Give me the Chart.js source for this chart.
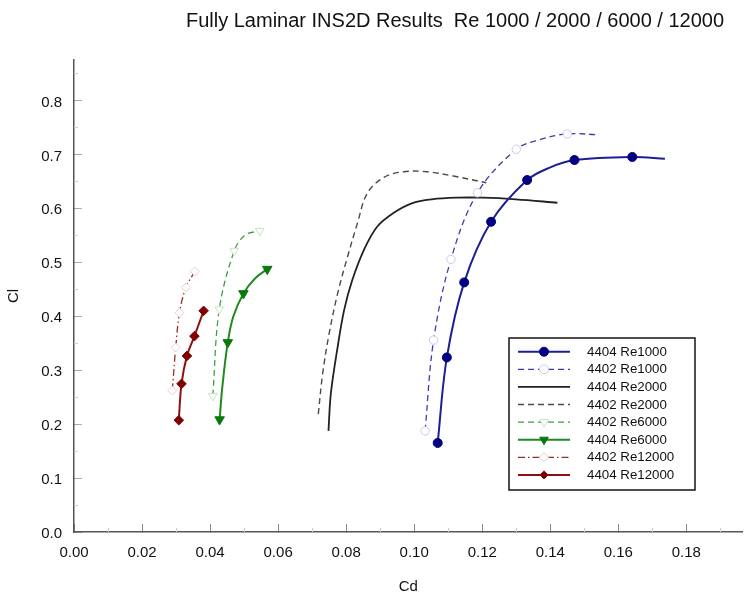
<!DOCTYPE html>
<html>
<head>
<meta charset="utf-8">
<script src="https://cdn.jsdelivr.net/npm/chart.js@4.4.0/dist/chart.umd.min.js"></script>
<style>
  html, body { margin: 0; padding: 0; background: #fff; }
</style>
</head>
<body>
<canvas id="polar" width="749" height="594"></canvas>
<script>
const chartTitle = 'Fully Laminar INS2D Results  Re 1000 / 2000 / 6000 / 12000';
const xTicks = [0, 0.02, 0.04, 0.06, 0.08, 0.10, 0.12, 0.14, 0.16, 0.18];
const yTicks = [0, 0.1, 0.2, 0.3, 0.4, 0.5, 0.6, 0.7, 0.8];
const xMinor = [0.01, 0.03, 0.05, 0.07, 0.09, 0.11, 0.13, 0.15, 0.17, 0.19];
const yMinor = [0.05, 0.15, 0.25, 0.35, 0.45, 0.55, 0.65, 0.75, 0.85];

// (Cd, Cl); mk = 1 where a symbol is drawn
const cd4404Re1000 = [0.1069, 0.1096, 0.1147, 0.1226, 0.1332, 0.1400, 0.1471, 0.1641, 0.1737];
const cl4404Re1000 = [0.1651, 0.3236, 0.4627, 0.5751, 0.6525, 0.6760, 0.6896, 0.6952, 0.6920];
const mk4404Re1000 = [1, 1, 1, 1, 1, 0, 1, 1, 0];

const cd4402Re1000 = [0.1032, 0.1057, 0.1108, 0.1186, 0.1300, 0.1367, 0.1450, 0.1541];
const cl4402Re1000 = [0.1874, 0.3557, 0.5054, 0.6289, 0.7095, 0.7270, 0.7379, 0.7366];
const mk4402Re1000 = [1, 1, 1, 1, 1, 0, 1, 0];

const cd4404Re2000 = [0.0748, 0.0755, 0.0775, 0.0794, 0.0818, 0.0852, 0.0891, 0.0940, 0.0993, 0.1052, 0.1124, 0.1202, 0.1299, 0.1421];
const cl4404Re2000 = [0.1874, 0.2568, 0.3432, 0.4113, 0.4670, 0.5226, 0.5659, 0.5918, 0.6093, 0.6167, 0.6197, 0.6197, 0.6167, 0.6104];

const cd4402Re2000 = [0.0718, 0.0731, 0.0750, 0.0775, 0.0804, 0.0833, 0.0862, 0.0911, 0.0969, 0.1037, 0.1115, 0.1212];
const cl4402Re2000 = [0.2184, 0.2939, 0.3681, 0.4423, 0.5102, 0.5722, 0.6278, 0.6575, 0.6679, 0.6679, 0.6599, 0.6475];

const cd4402Re6000 = [0.0408, 0.0427, 0.0471, 0.0503, 0.0546];
const cl4402Re6000 = [0.2523, 0.4126, 0.5213, 0.5505, 0.5584];
const mk4402Re6000 = [1, 1, 1, 0, 1];

const cd4404Re6000 = [0.0428, 0.0436, 0.0452, 0.0468, 0.0498, 0.0532, 0.0568];
const cl4404Re6000 = [0.2085, 0.2690, 0.3514, 0.3990, 0.4423, 0.4700, 0.4874];
const mk4404Re6000 = [1, 0, 1, 0, 1, 0, 1];

const cd4402Re12000 = [0.0289, 0.0299, 0.0310, 0.0329, 0.0355];
const cl4402Re12000 = [0.2623, 0.3421, 0.4063, 0.4534, 0.4831];

const cd4404Re12000 = [0.0308, 0.0316, 0.0332, 0.0354, 0.0381];
const cl4404Re12000 = [0.2072, 0.2746, 0.3265, 0.3631, 0.4100];

const FONT = '"Liberation Sans", Arial, Helvetica, sans-serif';

function pts(xs, ys) {
    return xs.map((x, i) => ({ x: x, y: ys[i] }));
}
function radii(marks, r) {
    return marks.map(m => m ? r : 0);
}

const datasets = [
    {
        label: '4404 Re1000',
        data: pts(cd4404Re1000, cl4404Re1000),
        borderColor: '#1e1e98', borderWidth: 2,
        pointStyle: 'circle', pointRadius: radii(mk4404Re1000, 4.5),
        pointBackgroundColor: '#000080', pointBorderColor: '#000080', pointBorderWidth: 1,
        legendRadius: 4.5
    },
    {
        label: '4402 Re1000',
        data: pts(cd4402Re1000, cl4402Re1000),
        borderColor: '#3c3cb0', borderWidth: 1.3, borderDash: [6, 4],
        pointStyle: 'circle', pointRadius: radii(mk4402Re1000, 4.2),
        pointBackgroundColor: '#ffffff', pointBorderColor: '#c8c8ee', pointBorderWidth: 1,
        legendRadius: 4.5
    },
    {
        label: '4404 Re2000',
        data: pts(cd4404Re2000, cl4404Re2000),
        borderColor: '#222222', borderWidth: 1.8,
        pointRadius: 0, legendRadius: 0
    },
    {
        label: '4402 Re2000',
        data: pts(cd4402Re2000, cl4402Re2000),
        borderColor: '#4a4a4a', borderWidth: 1.4, borderDash: [6, 4],
        pointRadius: 0, legendRadius: 0
    },
    {
        label: '4402 Re6000',
        data: pts(cd4402Re6000, cl4402Re6000),
        borderColor: '#3f9f3f', borderWidth: 1.3, borderDash: [6, 4],
        pointStyle: 'triangle', rotation: 180, pointRadius: radii(mk4402Re6000, 5),
        pointBackgroundColor: '#ffffff', pointBorderColor: '#c4e4c4', pointBorderWidth: 1,
        legendRadius: 5
    },
    {
        label: '4404 Re6000',
        data: pts(cd4404Re6000, cl4404Re6000),
        borderColor: '#1f8a1f', borderWidth: 2,
        pointStyle: 'triangle', rotation: 180, pointRadius: radii(mk4404Re6000, 5.5),
        pointBackgroundColor: '#0a780a', pointBorderColor: '#0a780a', pointBorderWidth: 1,
        legendRadius: 5
    },
    {
        label: '4402 Re12000',
        data: pts(cd4402Re12000, cl4402Re12000),
        borderColor: '#9a2a2a', borderWidth: 1.3, borderDash: [7, 3, 1.5, 3],
        pointStyle: 'rectRot', pointRadius: 4.5,
        pointBackgroundColor: '#ffffff', pointBorderColor: '#eccccc', pointBorderWidth: 1,
        legendRadius: 4.5
    },
    {
        label: '4404 Re12000',
        data: pts(cd4404Re12000, cl4404Re12000),
        borderColor: '#8e1010', borderWidth: 2,
        pointStyle: 'rectRot', pointRadius: 4.8,
        pointBackgroundColor: '#800000', pointBorderColor: '#800000', pointBorderWidth: 1,
        legendRadius: 4
    }
];

const plotTitle = {
    id: 'plotTitle',
    afterDraw(chart) {
        const ctx = chart.ctx;
        ctx.save();
        ctx.font = '20px ' + FONT;
        ctx.fillStyle = '#111';
        ctx.textAlign = 'center';
        ctx.textBaseline = 'alphabetic';
        ctx.fillText(chartTitle, 455, 26.5);
        ctx.restore();
    }
};

// short light minor ticks, drawn inward like the major ones
const minorTicks = {
    id: 'minorTicks',
    beforeDatasetsDraw(chart) {
        const ctx = chart.ctx;
        const { x, y } = chart.scales;
        const area = chart.chartArea;
        ctx.save();
        ctx.strokeStyle = '#cccccc';
        ctx.lineWidth = 1;
        ctx.beginPath();
        xMinor.forEach(v => {
            const px = Math.round(x.getPixelForValue(v)) + 0.5;
            ctx.moveTo(px, area.bottom);
            ctx.lineTo(px, area.bottom - 4);
        });
        yMinor.forEach(v => {
            const py = Math.round(y.getPixelForValue(v)) + 0.5;
            ctx.moveTo(area.left, py);
            ctx.lineTo(area.left + 4, py);
        });
        ctx.stroke();
        ctx.restore();
    }
};

const legendBox = {
    id: 'legendBox',
    afterDraw(chart) {
        const ctx = chart.ctx;
        const left = 509, top = 338, w = 186, h = 152, rowH = 17.6;
        ctx.save();
        ctx.fillStyle = '#ffffff';
        ctx.fillRect(left, top, w, h);
        ctx.lineWidth = 1.6;
        ctx.strokeStyle = '#222';
        ctx.strokeRect(left, top, w, h);
        chart.data.datasets.forEach((ds, i) => {
            const y = top + 13.7 + i * rowH;
            ctx.setLineDash(ds.borderDash || []);
            ctx.strokeStyle = ds.borderColor;
            ctx.lineWidth = ds.borderWidth;
            ctx.beginPath();
            ctx.moveTo(518, y);
            ctx.lineTo(570, y);
            ctx.stroke();
            ctx.setLineDash([]);
            if (ds.legendRadius) {
                ctx.fillStyle = ds.pointBackgroundColor;
                ctx.strokeStyle = ds.pointBorderColor;
                ctx.lineWidth = 1;
                Chart.helpers.drawPoint(ctx, {
                    pointStyle: ds.pointStyle,
                    radius: ds.legendRadius,
                    rotation: ds.rotation || 0,
                    borderWidth: 1
                }, 544, y);
            }
            ctx.fillStyle = '#111';
            ctx.font = '13.3px ' + FONT;
            ctx.textAlign = 'left';
            ctx.textBaseline = 'middle';
            ctx.fillText(ds.label, 587, y + 0.5);
        });
        ctx.restore();
    }
};

const polarChart = new Chart(document.getElementById('polar'), {
    type: 'line',
    data: { datasets: datasets },
    options: {
        responsive: false,
        animation: false,
        events: [],
        layout: { padding: { top: 60, right: 0, bottom: 0, left: 0 } },
        plugins: {
            legend: { display: false },
            title: { display: false },
            tooltip: { enabled: false }
        },
        elements: { line: { tension: 0.35 } },
        scales: {
            x: {
                type: 'linear',
                min: 0,
                max: 0.1965,
                afterFit(scale) { scale.height = 62; },
                afterBuildTicks(scale) { scale.ticks = xTicks.map(v => ({ value: v })); },
                border: { color: '#555', width: 1.5 },
                grid: { drawOnChartArea: false, drawTicks: true, tickLength: -8, tickColor: '#888', tickWidth: 1 },
                ticks: {
                    padding: 20,
                    color: '#111',
                    maxRotation: 0,
                    autoSkip: false,
                    font: { family: FONT, size: 15 },
                    callback: v => v.toFixed(2)
                },
                title: {
                    display: true,
                    text: 'Cd',
                    color: '#111',
                    font: { family: FONT, size: 15, lineHeight: 1 },
                    padding: { top: 0, bottom: 0 }
                }
            },
            y: {
                type: 'linear',
                min: 0,
                max: 0.875,
                afterFit(scale) { scale.width = 74; },
                afterBuildTicks(scale) { scale.ticks = yTicks.map(v => ({ value: v })); },
                border: { color: '#555', width: 1.5 },
                grid: { drawOnChartArea: false, drawTicks: true, tickLength: -8, tickColor: '#aaa', tickWidth: 1 },
                ticks: {
                    padding: 20,
                    labelOffset: 2,
                    color: '#111',
                    autoSkip: false,
                    font: { family: FONT, size: 15 },
                    callback: v => v.toFixed(1)
                },
                title: {
                    display: true,
                    text: 'Cl',
                    color: '#111',
                    font: { family: FONT, size: 15, lineHeight: 1.2 },
                    padding: { top: 5, bottom: 0 }
                }
            }
        }
    },
    plugins: [minorTicks, plotTitle, legendBox]
});
</script>
</body>
</html>
